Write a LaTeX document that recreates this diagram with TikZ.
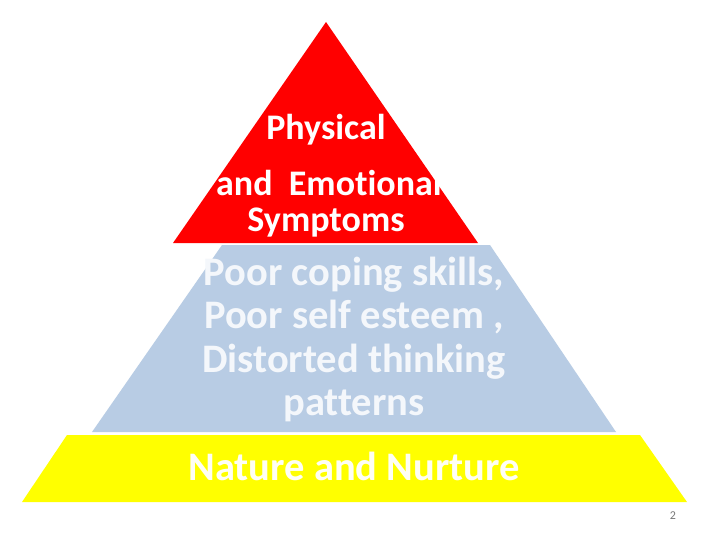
\documentclass[tikz,border=0pt]{standalone}
\usepackage{fontspec}
\setmainfont[Ligatures={NoCommon}]{Carlito}
\definecolor{topred}{RGB}{255,0,0}
\definecolor{midblue}{RGB}{184,204,228}
\definecolor{baseyellow}{RGB}{255,255,0}
\definecolor{bluetext}{RGB}{244,247,251}
\definecolor{yellowtext}{RGB}{255,255,245}
\definecolor{pagegray}{RGB}{120,120,120}
\tikzset{
  redtext/.style={text=white,font=\fontsize{36}{43}\selectfont\bfseries,inner sep=0pt,anchor=base},
  bluetxt/.style={text=bluetext,font=\fontsize{40.5}{48}\selectfont\bfseries,inner sep=0pt,anchor=base},
  yellowtxt/.style={text=yellowtext,font=\fontsize{40.5}{48}\selectfont\bfseries,inner sep=0pt,anchor=base},
  pagenum/.style={text=pagegray,font=\fontsize{12}{14}\selectfont,inner sep=0pt,anchor=base}
}
\begin{document}
\begin{tikzpicture}[x=1pt,y=-1pt]
\useasboundingbox (0,0) rectangle (720,540);
\fill[white] (0,0) rectangle (720,540);
% layers
\fill[topred] (326,22) -- (478,243) -- (173,243) -- cycle;
\fill[midblue] (222,245) -- (490,245) -- (616,432) -- (92,432) -- cycle;
\fill[baseyellow] (67,435) -- (640,435) -- (687,502) -- (22,502) -- cycle;
% texts
\node[redtext] (phys) at (326,140) {Physical};
\node[redtext,anchor=base west] (emo) at (216,196) {and\ \ Emotional};
\node[redtext] (symp) at (326,232) {Symptoms};
\node[bluetxt] (b1) at (354,285) {Poor coping skills,};
\node[bluetxt] (b2) at (354,328.5) {Poor self esteem ,};
\node[bluetxt] (b3) at (354,372) {Distorted thinking};
\node[bluetxt] (b4) at (354,415.5) {patterns};
\node[yellowtxt] (nn) at (354,480) {Nature and Nurture};
\node[pagenum] (pg) at (673,519) {2};
\end{tikzpicture}
\end{document}
